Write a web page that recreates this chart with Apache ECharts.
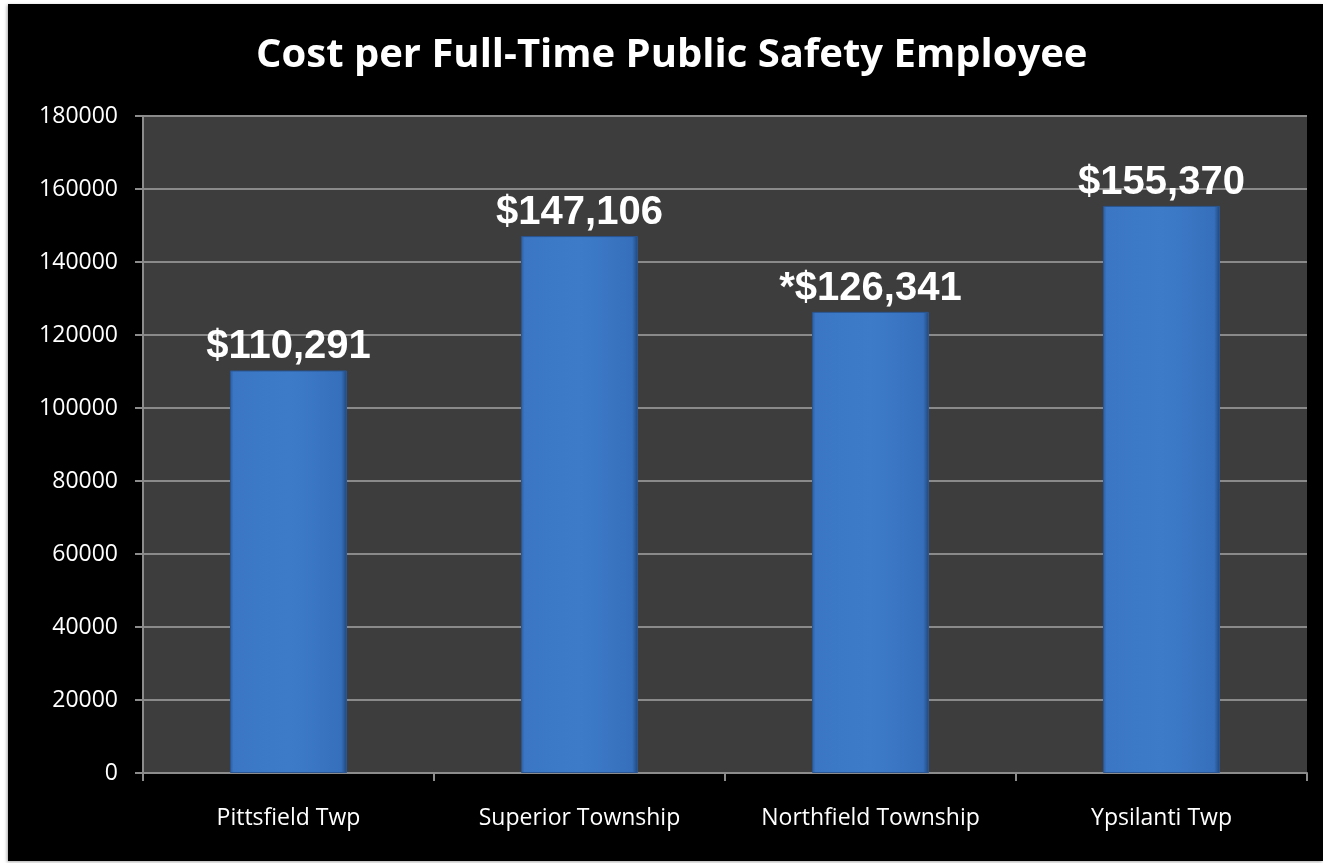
<!DOCTYPE html>
<html>
<head>
<meta charset="utf-8">
<script src="https://cdn.jsdelivr.net/npm/echarts@6/dist/echarts.min.js"></script>
<style>
  html, body { margin: 0; padding: 0; background: #ffffff; width: 1323px; height: 863px; overflow: hidden; }
  #frame { position: absolute; left: 8px; top: 4px; width: 1315px; height: 857px; background: #000000; box-shadow: -1px 1px 3px rgba(0,0,0,0.35); }
  #chart { width: 1315px; height: 857px; }
</style>
</head>
<body>
<div id="frame"><div id="chart"></div></div>
<script>
const titleText = 'Cost per Full-Time Public Safety Employee';
const categories = ['Pittsfield Twp', 'Superior Township', 'Northfield Township', 'Ypsilanti Twp'];
const costValues = [110291, 147106, 126341, 155370];
const valueLabels = ['$110,291', '$147,106', '*$126,341', '$155,370'];
const yMin = 0, yMax = 180000, yStep = 20000;

const chart = echarts.init(document.getElementById('chart'), null, { renderer: 'canvas' });

const barGradient = new echarts.graphic.LinearGradient(0, 0, 1, 0, [
  { offset: 0, color: '#2c5c9f' },
  { offset: 0.03, color: '#3a76c3' },
  { offset: 0.5, color: '#3d7bc9' },
  { offset: 0.95, color: '#3670bc' },
  { offset: 1, color: '#1f4578' }
]);

chart.setOption({
  backgroundColor: '#000000',
  animation: false,
  title: {
    text: titleText,
    left: 243,
    top: 27,
    textStyle: { color: '#ffffff', fontFamily: 'Open Sans', fontWeight: 'bold', fontSize: 40 }
  },
  grid: { left: 135, top: 112, right: 16, bottom: 88, show: true, backgroundColor: '#3d3d3d', borderWidth: 0 },
  xAxis: {
    type: 'category',
    data: categories,
    axisLine: { show: true, lineStyle: { color: '#8c8c8c', width: 2 } },
    axisTick: { show: true, length: 8, alignWithLabel: false, lineStyle: { color: '#8c8c8c', width: 2 } },
    axisLabel: { color: '#ffffff', fontFamily: 'Open Sans', fontSize: 23, margin: 34 },
    splitLine: { show: false }
  },
  yAxis: {
    type: 'value',
    min: yMin, max: yMax, interval: yStep,
    axisLine: { show: true, lineStyle: { color: '#8c8c8c', width: 2 } },
    axisTick: { show: true, length: 8, lineStyle: { color: '#8c8c8c', width: 2 } },
    axisLabel: { color: '#ffffff', fontFamily: 'Open Sans', fontSize: 23, margin: 25, formatter: v => String(v) },
    splitLine: { show: true, lineStyle: { color: '#8a8a8a', width: 2 } }
  },
  series: [{
    type: 'bar',
    data: costValues,
    barWidth: 117,
    itemStyle: { color: barGradient, borderColor: '#2a5590', borderWidth: 1 },
    label: {
      show: true,
      position: 'top',
      distance: 3,
      color: '#ffffff',
      fontFamily: 'Liberation Sans',
      fontWeight: 'bold',
      fontSize: 40,
      formatter: p => valueLabels[p.dataIndex]
    }
  }]
});
</script>
</body>
</html>
